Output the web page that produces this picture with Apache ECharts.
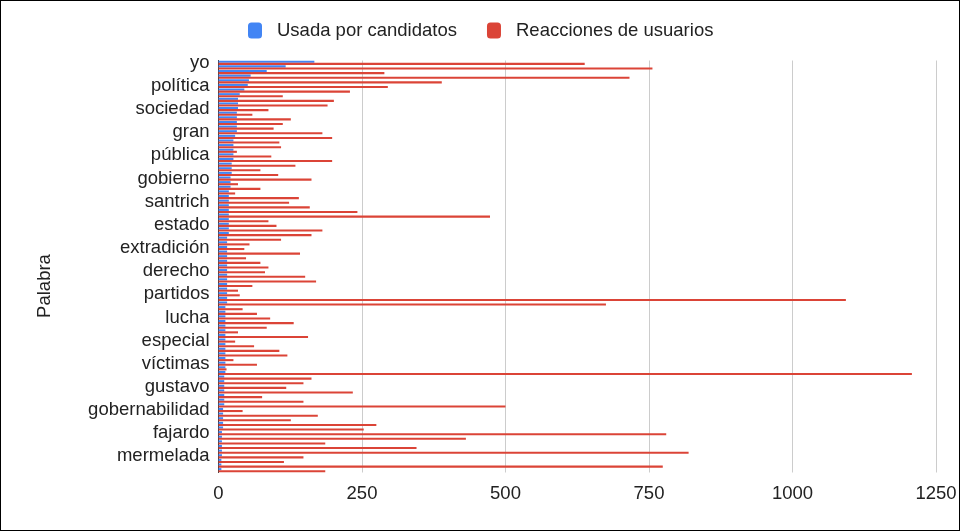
<!DOCTYPE html>
<html>
<head>
    <meta charset="utf-8" />
    <title>Palabras</title>
    <script src="https://cdn.jsdelivr.net/npm/echarts@6/dist/echarts.min.js"></script>
    <style>
        html, body {
            margin: 0;
            padding: 0;
            background: #fff;
        }

        #wrap {
            position: relative;
            width: 960px;
            height: 531px;
        }

        #chart {
            width: 960px;
            height: 531px;
        }

        /* marco negro alrededor de la imagen */
        #frame {
            position: absolute;
            left: 0;
            top: 0;
            width: 960px;
            height: 531px;
            box-sizing: border-box;
            border: 1px solid #000;
            pointer-events: none;
        }
    </style>
</head>
<body>
    <div id="wrap">
        <div id="chart"></div>
        <div id="frame"></div>
    </div>
    <script>
        // etiquetas visibles del eje (una de cada cinco palabras)
        var labels = ['yo', 'política', 'sociedad', 'gran', 'pública', 'gobierno', 'santrich', 'estado',
            'extradición', 'derecho', 'partidos', 'lucha', 'especial', 'víctimas', 'gustavo',
            'gobernabilidad', 'fajardo', 'mermelada'];

        // veces que la palabra fue usada por candidatos
        var usada = [167, 117, 84, 56, 53, 51, 45, 37, 34, 34,
            34, 32, 32, 32, 32, 32, 29, 26, 26, 26,
            26, 26, 23, 23, 23, 21, 21, 21, 18, 18,
            18, 18, 18, 18, 18, 18, 18, 18, 15, 15,
            15, 15, 15, 15, 15, 15, 15, 15, 15, 15,
            15, 15, 15, 12, 12, 12, 12, 12, 12, 12,
            12, 12, 12, 12, 12, 12, 12, 12, 10, 10,
            10, 10, 10, 10, 10, 8, 8, 8, 8, 8,
            6, 6, 6, 6, 6, 6, 5, 5, 5];

        // reacciones de usuarios
        var reacciones = [638, 756, 289, 716, 389, 295, 229, 112, 201, 190,
            87, 59, 126, 112, 96, 181, 198, 106, 109, 32,
            92, 198, 134, 73, 104, 162, 34, 73, 29, 140,
            123, 159, 242, 473, 87, 101, 181, 162, 109, 54,
            45, 142, 48, 73, 87, 81, 151, 170, 59, 34,
            37, 1093, 675, 42, 67, 90, 131, 84, 34, 156,
            29, 62, 106, 120, 26, 67, 14, 1208, 162, 148,
            118, 234, 76, 148, 500, 42, 173, 126, 275, 253,
            780, 431, 186, 345, 819, 148, 114, 774, 186];

        // categorías: solo se conocen las palabras rotuladas
        var palabras = [];
        for (var i = 0; i < reacciones.length; i++) {
            palabras.push(i % 5 === 0 ? labels[i / 5] : '');
        }

        var xTicks = [0, 250, 500, 750, 1000, 1250];

        var myChart = echarts.init(document.getElementById('chart'));
        var option = {
            backgroundColor: '#fff',
            textStyle: { fontFamily: 'Liberation Sans, Arial, sans-serif' },
            legend: {
                left: 243,
                top: 16,
                itemWidth: 14,
                itemHeight: 16,
                itemGap: 30,
                icon: 'roundRect',
                textStyle: { fontSize: 18.5, color: '#222', padding: [0, 0, 0, 10] },
                data: ['Usada por candidatos', 'Reacciones de usuarios']
            },
            grid: {
                left: 218.5,
                right: 24,
                top: 60.5,
                bottom: 58.5,
                containLabel: false
            },
            graphic: [{
                type: 'text',
                x: 45,
                y: 286,
                rotation: Math.PI / 2,
                style: {
                    text: 'Palabra',
                    fill: '#222',
                    font: '18.5px Liberation Sans, Arial, sans-serif',
                    align: 'center',
                    verticalAlign: 'middle'
                }
            }],
            xAxis: {
                type: 'value',
                min: xTicks[0],
                max: xTicks[xTicks.length - 1],
                interval: 250,
                axisLine: { show: false },
                axisTick: { show: false },
                splitLine: { lineStyle: { color: '#cccccc', width: 1 } },
                axisLabel: {
                    color: '#222',
                    fontSize: 18.5,
                    margin: 12,
                    formatter: function (v) { return String(v); }
                }
            },
            yAxis: {
                type: 'category',
                inverse: true,
                data: palabras,
                axisLine: { show: true, lineStyle: { color: '#333', width: 1 } },
                axisTick: { show: false },
                axisLabel: { interval: 0, color: '#222', fontSize: 18.5, margin: 9 }
            },
            series: [
                {
                    name: 'Usada por candidatos',
                    type: 'bar',
                    data: usada,
                    itemStyle: { color: '#4285f4' },
                    barGap: '0%',
                    barCategoryGap: '10%'
                },
                {
                    name: 'Reacciones de usuarios',
                    type: 'bar',
                    data: reacciones,
                    itemStyle: { color: '#db4437' }
                }
            ]
        };
        myChart.setOption(option);
    </script>
</body>
</html>
